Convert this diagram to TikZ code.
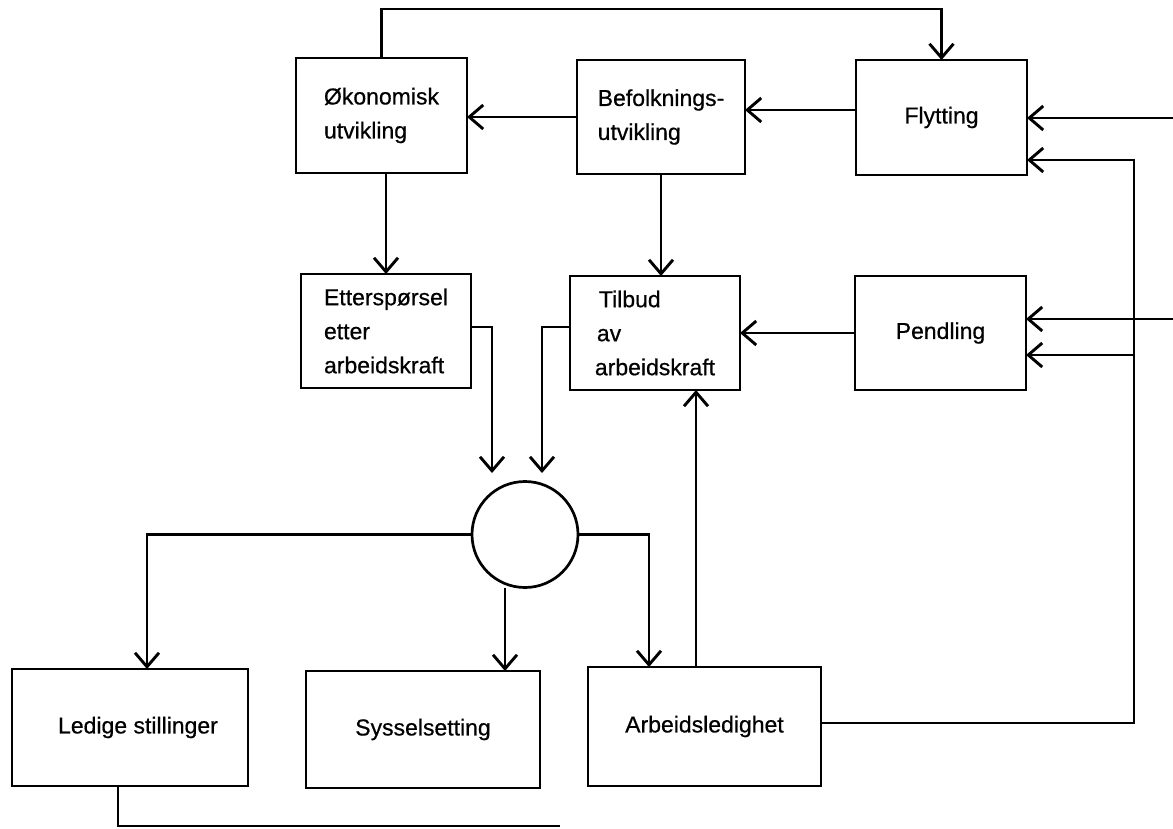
\documentclass[tikz,border=0pt]{standalone}
\usepackage{fontspec}
\setmainfont{Liberation Sans}
\newfontfamily\boxfont[FakeBold=0.6]{Liberation Sans}
\usetikzlibrary{arrows.meta}
\begin{document}
\begin{tikzpicture}[x=1pt,y=-1pt,
  box/.style={draw, line width=2.9pt, outer sep=0pt, inner sep=0pt, align=left,
    font=\boxfont\fontsize{23}{34}\selectfont},
  ln/.style={line width=2.7pt},
  arr/.style={ln, -{Straight Barb[length=14pt,width=24pt,line width=2.9pt]}},
  junction/.style={draw, circle, line width=2.7pt, minimum size=106pt, inner sep=0pt, outer sep=0pt}
]
\useasboundingbox (0,0) rectangle (1173,828);

% boxes
\node[box, minimum width=171, minimum height=115] (okon) at (381.5,115.5) {Økonomisk\\utvikling};
\node[box, minimum width=168, minimum height=114] (befolk) at (661,117) {Befolknings-\\utvikling};
\node[box, minimum width=171, minimum height=115] (flytting) at (941.5,117.5) {Flytting};
\node[box, minimum width=170, minimum height=114] (etter) at (386,331) {Etterspørsel\\etter\\arbeidskraft};
\node[box, minimum width=170, minimum height=114] (tilbud) at (655,333) {\hspace*{4pt}Tilbud\\\hspace*{2pt}av\\arbeidskraft};
\node[box, minimum width=171, minimum height=114] (pendling) at (940.5,333) {Pendling};
\node[box, minimum width=236, minimum height=117] (ledige) at (130,727.5) {\hspace*{16pt}Ledige stillinger};
\node[box, minimum width=234, minimum height=117] (syssel) at (423,729.5) {Sysselsetting};
\node[box, minimum width=233, minimum height=119] (arbeids) at (704.5,726.5) {Arbeidsledighet};
\node[junction] (circ) at (525,534.5) {};

% helper coordinates
\coordinate (inA) at (1173,118);
\coordinate (inB) at (1173,319);
\coordinate (c1) at (1134,160);
\coordinate (c2) at (1134,355);
\coordinate (e1) at (492,473);
\coordinate (t1) at (542,473);
\coordinate (b1) at (560,826);

% connectors
\draw[arr] (okon.north) -- ++(0,-49) -| (flytting.north);
\draw[arr] ([yshift=7.5pt]flytting.west) coordinate (fw) -- (fw -| befolk.east);
\draw[arr] (befolk.west) -- (befolk.west -| okon.east);
\draw[arr] (etter.north |- okon.south) -- (etter.north);
\draw[arr] (befolk.south) -- (befolk.south |- tilbud.north);
\draw[arr] (pendling.west) -- (pendling.west -| tilbud.east);
\draw[arr] (inA) -- (inA -| flytting.east);
\draw[arr] (inB) -- (inB -| pendling.east);
\draw[arr] ([yshift=3.5pt]arbeids.east) -| (c1) -- (c1 -| flytting.east);
\draw[arr] (c2) -- (c2 -| pendling.east);
\draw[arr] ([yshift=4pt]etter.east) -| (e1);
\draw[arr] ([yshift=6pt]tilbud.west) -| (t1);
\draw[arr] (circ.west) -| ([xshift=17pt]ledige.north);
\draw[arr] (circ.east) -| ([xshift=-55.5pt]arbeids.north);
\draw[arr] ([xshift=-20pt]circ.south) coordinate (cs) -- (cs |- syssel.north);
\draw[arr] ([xshift=-8.5pt]arbeids.north) coordinate (au) -- (au |- tilbud.south);
\draw[ln] ([xshift=-12pt]ledige.south) |- (b1);
\end{tikzpicture}
\end{document}
